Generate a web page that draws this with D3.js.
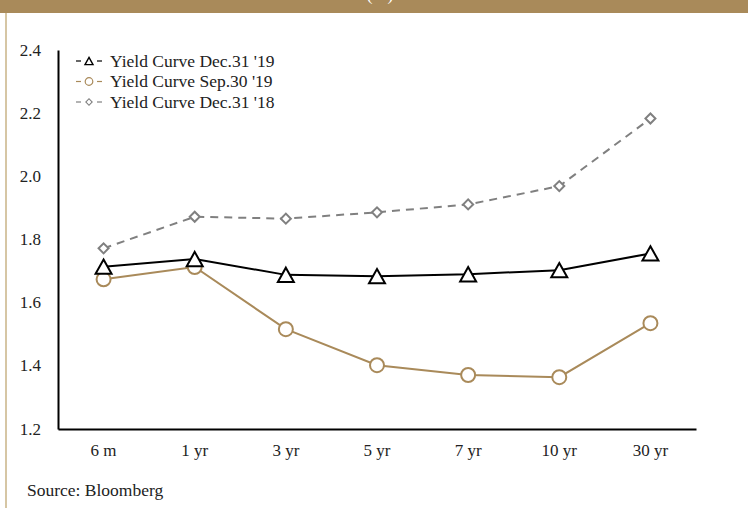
<!DOCTYPE html>
<html>
<head>
<meta charset="utf-8">
<script src="https://cdn.jsdelivr.net/npm/d3@7"></script>
<style>
  html, body { margin: 0; padding: 0; background: #fff; }
  svg { display: block; }
  text { font-family: "Liberation Serif", "DejaVu Serif", serif; fill: #222; }
</style>
</head>
<body>
<svg id="chart" width="748" height="508"></svg>
<script>
const categories = ["6 m", "1 yr", "3 yr", "5 yr", "7 yr", "10 yr", "30 yr"];
const dec19 = [1.714, 1.738, 1.688, 1.684, 1.690, 1.703, 1.756];
const sep19 = [1.674, 1.713, 1.516, 1.402, 1.371, 1.364, 1.535];
const dec18 = [1.772, 1.872, 1.866, 1.886, 1.911, 1.969, 2.183];
const yTicks = [1.2, 1.4, 1.6, 1.8, 2.0, 2.2, 2.4];
const seriesNames = ["Yield Curve Dec.31 '19", "Yield Curve Sep.30 '19", "Yield Curve Dec.31 '18"];
const sourceText = "Source: Bloomberg";

const svg = d3.select("#chart");
const W = 748, H = 508;
const gold = "#A98A5A";

// header band
svg.append("rect").attr("x", 0).attr("y", 0).attr("width", W).attr("height", 13).attr("fill", gold);
svg.append("text").attr("x", 380).attr("y", -0.5).attr("text-anchor", "middle")
  .style("font-size", "18px").style("fill", "#fff").text("(%)");
// left border
svg.append("rect").attr("x", 5).attr("y", 13).attr("width", 2).attr("height", H - 13).attr("fill", "#D6C6A4");

const x = d3.scaleBand().domain(categories).range([58, 696]);
const y = d3.scaleLinear().domain([1.2, 2.4]).range([429, 50]);

// axes
const yAxis = svg.append("g").attr("transform", "translate(58,0)")
  .call(d3.axisLeft(y).tickValues(yTicks).tickFormat(d3.format(".1f")).tickSize(0).tickPadding(17));
yAxis.select(".domain").attr("stroke", "#000").attr("stroke-width", 2);
yAxis.selectAll("text").style("font-size", "17px").attr("dy", "0.3em").style("fill", "#222");

const xAxis = svg.append("g").attr("transform", "translate(0,429)")
  .call(d3.axisBottom(x).tickSize(0).tickPadding(15));
xAxis.select(".domain").attr("stroke", "#000").attr("stroke-width", 2);
xAxis.selectAll("text").style("font-size", "17px").style("fill", "#222");

const cx = d => x(d) + x.bandwidth() / 2;
const line = d3.line().x(d => cx(d[0])).y(d => y(d[1]));

function zip(vals) { return categories.map((c, i) => [c, vals[i]]); }

// Dec 18 dashed gray
svg.append("path").datum(zip(dec18)).attr("d", line).attr("fill", "none")
  .attr("stroke", "#808080").attr("stroke-width", 2).attr("stroke-dasharray", "8,6");
// Sep 19 tan
svg.append("path").datum(zip(sep19)).attr("d", line).attr("fill", "none")
  .attr("stroke", gold).attr("stroke-width", 2);
// Dec 19 black
svg.append("path").datum(zip(dec19)).attr("d", line).attr("fill", "none")
  .attr("stroke", "#000").attr("stroke-width", 2);

const diamond = d3.symbol().type(d3.symbolSquare).size(50);
svg.selectAll(".dia").data(zip(dec18)).enter().append("path")
  .attr("d", diamond)
  .attr("transform", d => `translate(${cx(d[0])},${y(d[1])}) rotate(45)`)
  .attr("fill", "#fff").attr("stroke", "#808080").attr("stroke-width", 2);

svg.selectAll(".circ").data(zip(sep19)).enter().append("circle")
  .attr("cx", d => cx(d[0])).attr("cy", d => y(d[1])).attr("r", 7)
  .attr("fill", "#fff").attr("stroke", gold).attr("stroke-width", 2);

function tri(s) {
  const h = s * 0.9;
  return `M0,${-h/2}L${s/2},${h/2}L${-s/2},${h/2}Z`;
}
svg.selectAll(".tri").data(zip(dec19)).enter().append("path")
  .attr("d", tri(16))
  .attr("transform", d => `translate(${cx(d[0])},${y(d[1])})`)
  .attr("fill", "#fff").attr("stroke", "#000").attr("stroke-width", 2);

// legend
const legY = [61, 81.5, 102];
const legColors = ["#000", gold, "#808080"];
const leg = svg.append("g");
seriesNames.forEach((name, i) => {
  const g = leg.append("g").attr("transform", `translate(0,${legY[i]})`);
  g.append("line").attr("x1", 76).attr("x2", 81).attr("y1", 0).attr("y2", 0)
    .attr("stroke", legColors[i]).attr("stroke-width", 1.2);
  g.append("line").attr("x1", 97).attr("x2", 102).attr("y1", 0).attr("y2", 0)
    .attr("stroke", legColors[i]).attr("stroke-width", 1.2);
  if (i === 0) {
    g.append("path").attr("d", tri(8)).attr("transform", "translate(89,0)")
      .attr("fill", "#fff").attr("stroke", "#000").attr("stroke-width", 1.4);
  } else if (i === 1) {
    g.append("circle").attr("cx", 89).attr("cy", 0).attr("r", 3.8)
      .attr("fill", "#fff").attr("stroke", gold).attr("stroke-width", 1.2);
  } else {
    g.append("path").attr("d", d3.symbol().type(d3.symbolSquare).size(20))
      .attr("transform", "translate(89,0) rotate(45)")
      .attr("fill", "#fff").attr("stroke", "#808080").attr("stroke-width", 1.1);
  }
  g.append("text").attr("x", 110).attr("y", 0).attr("dy", "0.33em")
    .style("font-size", "17.5px").text(name);
});

svg.append("text").attr("x", 27).attr("y", 496).style("font-size", "17.5px").text(sourceText);
</script>
</body>
</html>
